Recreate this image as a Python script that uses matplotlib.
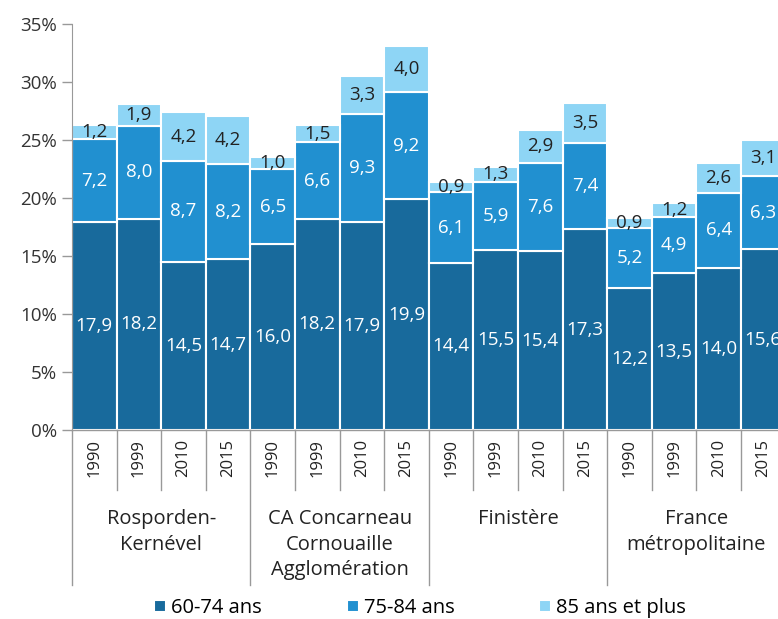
import matplotlib
matplotlib.use("Agg")
import matplotlib.pyplot as plt
import matplotlib.transforms as mtransforms
import numpy as np

plt.rcParams['font.family'] = ['Open Sans', 'DejaVu Sans']

groupes = ["Rosporden-\nKernével", "CA Concarneau\nCornouaille\nAgglomération",
           "Finistère", "France\nmétropolitaine"]
annees = ["1990", "1999", "2010", "2015"]
series = ["60-74 ans", "75-84 ans", "85 ans et plus"]

# 16 barres : 4 territoires x 4 annees
v60_74 = [17.9, 18.2, 14.5, 14.7, 16.0, 18.2, 17.9, 19.9,
          14.4, 15.5, 15.4, 17.3, 12.2, 13.5, 14.0, 15.6]
v75_84 = [7.2, 8.0, 8.7, 8.2, 6.5, 6.6, 9.3, 9.2,
          6.1, 5.9, 7.6, 7.4, 5.2, 4.9, 6.4, 6.3]
v85 = [1.2, 1.9, 4.2, 4.2, 1.0, 1.5, 3.3, 4.0,
       0.9, 1.3, 2.9, 3.5, 0.9, 1.2, 2.6, 3.1]

couleurs = ["#186A9C", "#2190D0", "#8ED5F5"]
couleurs_txt = ["white", "white", "#222222"]

fig = plt.figure(figsize=(7.78, 6.19), dpi=100)
ax = fig.add_axes([72/778, 1-430/619, (778-72)/778, 406/619])

x = np.arange(len(v60_74))
bas = np.zeros(len(x))
for vals, c, ct, nom in zip([v60_74, v75_84, v85], couleurs, couleurs_txt, series):
    vals = np.array(vals)
    ax.bar(x, vals, bottom=bas, width=1.0, color=c, edgecolor="white",
           linewidth=1.5, label=nom)
    for xi, b, v in zip(x, bas, vals):
        ax.text(xi, b + v/2, f"{v:.1f}".replace(".", ","), ha="center",
                va="center", color=ct, fontsize=13.5)
    bas = bas + vals

# la derniere barre est coupee par le bord droit, comme dans l'original
ax.set_xlim(-0.5, 15.33)
ax.set_ylim(0, 35)
ax.set_yticks(np.arange(0, 36, 5))
ax.set_yticklabels([f"{t}%" for t in range(0, 36, 5)], fontsize=13.5, color="#333333")
ax.tick_params(axis="y", length=7, color="#999999", width=1, pad=4)
ax.set_xticks([])
for s in ["top", "right", "bottom"]:
    ax.spines[s].set_visible(False)
ax.spines["left"].set_color("#999999")
ax.axhline(0, color="#999999", lw=1, clip_on=False)

trans = mtransforms.blended_transform_factory(ax.transData, ax.transAxes)
px = 1/406
for i in range(len(x)):
    xs = i - 0.5
    bas_ligne = -155*px if i % 4 == 0 else -60*px
    ax.plot([xs, xs], [0, bas_ligne], color="#999999", lw=1,
            transform=trans, clip_on=False)
    ax.text(i, -9*px, annees[i % 4], rotation=90, ha="center", va="top",
            fontsize=12, color="#222222", transform=trans)

for g, nom in enumerate(groupes):
    ax.text(g*4 + 1.5, -79*px, nom, ha="center", va="top", fontsize=14.5,
            color="#222222", linespacing=1.38, transform=trans)

fig.legend(loc="center", bbox_to_anchor=(420/778, 1-608/619), ncol=3,
           frameon=False, fontsize=14.5, handlelength=0.6, handleheight=0.6,
           handletextpad=0.25, columnspacing=4.2)

fig.savefig("out.png", dpi=100)
